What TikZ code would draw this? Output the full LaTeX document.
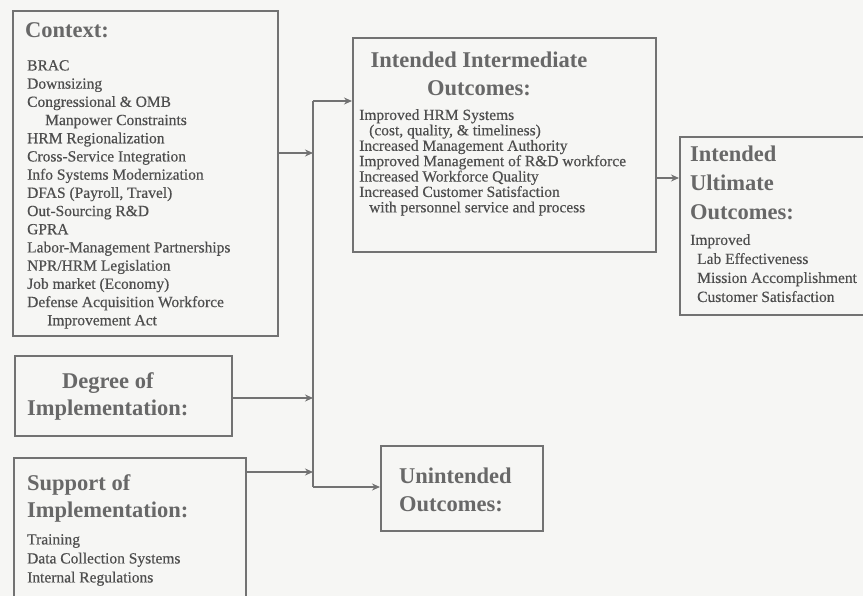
\documentclass[tikz,border=0pt]{standalone}
\usepackage{fontspec}
\setmainfont{Liberation Serif}
\usetikzlibrary{arrows.meta}
\definecolor{bg}{HTML}{F6F6F4}
\definecolor{ln}{HTML}{727272}
\definecolor{hd}{HTML}{686868}
\definecolor{tx}{HTML}{4E4E4E}
\begin{document}
\begin{tikzpicture}[x=1pt,y=-1pt,
  box/.style={draw=ln, line width=1.8pt, inner sep=0pt, anchor=north west},
  head/.style={font=\fontsize{22.5}{27.5}\selectfont\bfseries, text=hd, align=left, inner sep=0pt, anchor=north west},
  body/.style={font=\fontsize{15.5}{18.2}\selectfont\addfontfeature{FakeBold=0.4}, text=tx, align=left, inner sep=0pt, anchor=north west},
  conn/.style={draw=ln, line width=1.8pt},
  arr/.style={conn, -{Stealth[length=8pt,width=7pt]}}]
\useasboundingbox (0,0) rectangle (863,596);
\fill[bg] (0,0) rectangle (863,596);
\clip (0,0) rectangle (863,596);
% boxes
\node[box, minimum width=265pt, minimum height=325pt] (ctx) at (12,10) {};
\node[box, minimum width=217pt, minimum height=80pt] (deg) at (14,355) {};
\node[box, minimum width=232pt, minimum height=160pt] (sup) at (13,457) {};
\node[box, minimum width=303pt, minimum height=214pt] (mid) at (352,37) {};
\node[box, minimum width=210pt, minimum height=178pt] (ult) at (679,136) {};
\node[box, minimum width=162pt, minimum height=85pt] (uni) at (380,445) {};
% texts
\node[head] (ctxh) at (25,22) {Context:};
\node[body] (ctxb) at (27,60) {BRAC\\Downsizing\\Congressional \& OMB\\\hspace*{18pt}Manpower Constraints\\HRM Regionalization\\Cross-Service Integration\\Info Systems Modernization\\DFAS (Payroll, Travel)\\Out-Sourcing R\&D\\GPRA\\Labor-Management Partnerships\\NPR/HRM Legislation\\Job market (Economy)\\Defense Acquisition Workforce\\\hspace*{20pt}Improvement Act};
\node[head, align=center, anchor=north west] (degh) at (27,372) {Degree of\\Implementation:};
\node[head] (suph) at (27,474) {Support of\\Implementation:};
\node[body, font=\fontsize{15.5}{19}\selectfont\addfontfeature{FakeBold=0.4}] (supb) at (27,534) {Training\\Data Collection Systems\\Internal Regulations};
\node[head, align=center, anchor=north] (midh) at (479,52) {Intended Intermediate\\Outcomes:};
\node[body, font=\fontsize{15.5}{15.4}\selectfont\addfontfeature{FakeBold=0.4}] (midb) at (359,109) {Improved HRM Systems\\\hspace*{10pt}(cost, quality, \& timeliness)\\Increased Management Authority\\Improved Management of R\&D workforce\\Increased Workforce Quality\\Increased Customer Satisfaction\\\hspace*{10pt}with personnel service and process};
\node[head, font=\fontsize{22.5}{29}\selectfont\bfseries] (ulth) at (690,146) {Intended\\Ultimate\\Outcomes:};
\node[body, font=\fontsize{15.5}{19}\selectfont\addfontfeature{FakeBold=0.4}] (ultb) at (690,234) {Improved\\\hspace*{7pt}Lab Effectiveness\\\hspace*{7pt}Mission Accomplishment\\\hspace*{7pt}Customer Satisfaction};
\node[head] (unih) at (399,468) {Unintended\\Outcomes:};
% connectors
\coordinate (bt) at (313,101);
\coordinate (bb) at (313,487);
\draw[conn] (bt) -- (bb);
\draw[arr] (ctx.east |- 0,153) -- (313,153);
\draw[arr] (bt) -- (mid.west |- bt);
\draw[arr] (deg.east |- 0,398) -- (313,398);
\draw[arr] (sup.east |- 0,472) -- (313,472);
\draw[arr] (bb) -- (uni.west |- bb);
\draw[arr] (mid.east |- 0,178) -- (ult.west |- 0,178);
\end{tikzpicture}
\end{document}
